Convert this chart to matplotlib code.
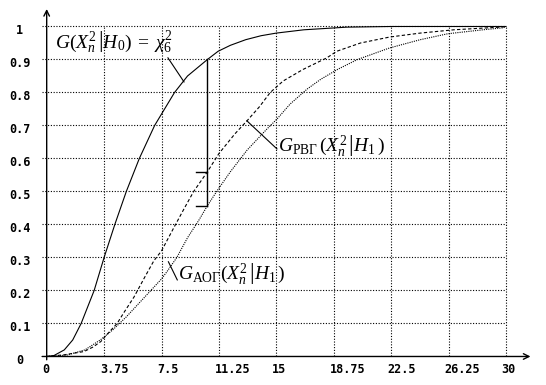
import matplotlib
matplotlib.use("Agg")
import matplotlib.pyplot as plt

# Curves
h0_x = [0, 0.48, 1.15, 1.7, 2.25, 3.1, 3.75, 4.45, 5.2, 6.05, 7.05, 8.35,
        9.2, 10.5, 11.2, 12, 13, 14, 15, 16.8, 19.6, 22.5, 30]
h0_y = [0, 0.003, 0.02, 0.05, 0.1, 0.2, 0.3, 0.4, 0.5, 0.6, 0.7, 0.8,
        0.85, 0.9, 0.925, 0.943, 0.96, 0.972, 0.98, 0.99, 0.998, 1.0, 1.0]

rvg_x = [0, 1.13, 2.44, 3.0, 3.53, 4.0, 4.6, 5.0, 5.7, 6.4, 7.0, 7.5, 8.3, 9.0,
         9.6, 10.5, 11.25, 12.3, 13.1, 13.9, 14.6, 15.45, 16.75, 18.3, 18.95,
         20.5, 22.4, 24.4, 26.6, 29.6, 30]
rvg_y = [0, 0.005, 0.015, 0.028, 0.045, 0.07, 0.1, 0.13, 0.18, 0.24, 0.29, 0.32,
         0.39, 0.45, 0.50, 0.56, 0.615, 0.675, 0.715, 0.757, 0.80, 0.835, 0.87,
         0.905, 0.925, 0.95, 0.968, 0.98, 0.99, 0.998, 1.0]

aog_x = [0, 1.3, 2.5, 3.5, 4.3, 5.2, 6.1, 7.0, 7.5, 7.9, 8.5, 9.2, 9.9, 10.5,
         11.1, 12.0, 13.1, 14.4, 15.05, 15.9, 17.0, 17.9, 19.0, 20.3, 22.4, 24.4,
         26.2, 28.5, 29.8, 30]
aog_y = [0, 0.004, 0.02, 0.05, 0.08, 0.12, 0.165, 0.21, 0.235, 0.26, 0.30, 0.36,
         0.41, 0.457, 0.5, 0.56, 0.626, 0.69, 0.72, 0.765, 0.81, 0.84, 0.87, 0.90,
         0.935, 0.96, 0.978, 0.99, 0.996, 1.0]

# critical value and the levels marked on it
crit_x = 10.5
crit_levels = [0.9, 0.56, 0.457]

x_ticks = [0, 3.75, 7.5, 11.25, 15, 18.75, 22.5, 26.25, 30]
x_labels = ["0", "3.75", "7.5", "11.25", "15", "18.75", "22.5", "26.25", "30"]
y_ticks = [0, 0.1, 0.2, 0.3, 0.4, 0.5, 0.6, 0.7, 0.8, 0.9, 1]
y_labels = ["0", "0.1", "0.2", "0.3", "0.4", "0.5", "0.6", "0.7", "0.8", "0.9", "1"]

plt.rcParams["mathtext.fontset"] = "custom"
plt.rcParams["mathtext.rm"] = "Liberation Serif"
plt.rcParams["mathtext.it"] = "Liberation Serif:italic"

fig = plt.figure(figsize=(5.46, 3.85), dpi=100)
ax = fig.add_axes([0.0771, 0.0655, 0.9057, 0.9257])
ax.set_xlim(-0.3, 32)
ax.set_ylim(-0.01, 1.07)
ax.axis("off")

# dotted grid
grid_style = dict(color="black", lw=0.8, linestyle=(0, (1, 1.5)))
for t in x_ticks[1:]:
    ax.plot([t, t], [0, 1], **grid_style)
for t in y_ticks[1:]:
    ax.plot([-0.3, 30], [t, t], **grid_style)

# axes with arrows
ax.annotate("", xy=(31.6, 0), xytext=(-0.3, 0),
            arrowprops=dict(arrowstyle="->", lw=1, color="black", shrinkA=0, shrinkB=0))
ax.annotate("", xy=(0, 1.053), xytext=(0, -0.01),
            arrowprops=dict(arrowstyle="->", lw=1, color="black", shrinkA=0, shrinkB=0))

# curves
ax.plot(h0_x, h0_y, color="black", lw=0.8)
ax.plot(rvg_x, rvg_y, color="black", lw=0.8, linestyle=(0, (3, 2)))
ax.plot(aog_x, aog_y, color="black", lw=0.8, linestyle=(0, (1, 1)))

# critical value marks
ax.plot([crit_x, crit_x], [crit_levels[0], crit_levels[2]], color="black", lw=1)
for lev in crit_levels[1:]:
    ax.plot([crit_x - 0.74, crit_x], [lev, lev], color="black", lw=1)

# tick labels
tick_font = dict(family="DejaVu Sans Mono", weight="bold", size=8.5)
for t, lab in zip(x_ticks, x_labels):
    ax.text(t - 0.28, -0.04, lab, ha="left", va="center", clip_on=False, **tick_font)
for t, lab in zip(y_ticks, y_labels):
    ax.text(-1.75, t - 0.012, lab, ha="center", va="center", clip_on=False, **tick_font)

# annotations
ax.text(0.54, 0.953, r"$G(\left.X_n^2\,\right|H_0)\;=\;\chi_6^2$", fontsize=14, va="center")
ax.plot([7.92, 8.97], [0.905, 0.832], color="black", lw=0.8)
ax.text(15.1, 0.64, r"$G_{\mathrm{РВГ}}\,(\left.X_n^2\,\right|H_1\,)$", fontsize=14, va="center")
ax.plot([13.08, 15.04], [0.714, 0.629], color="black", lw=0.8)
ax.text(8.58, 0.25, r"$G_{\mathrm{АОГ}}(\left.X_n^2\,\right|H_1\,)$", fontsize=14, va="center")
ax.plot([7.95, 8.53], [0.287, 0.232], color="black", lw=0.8)

fig.savefig("out.png", dpi=100)
